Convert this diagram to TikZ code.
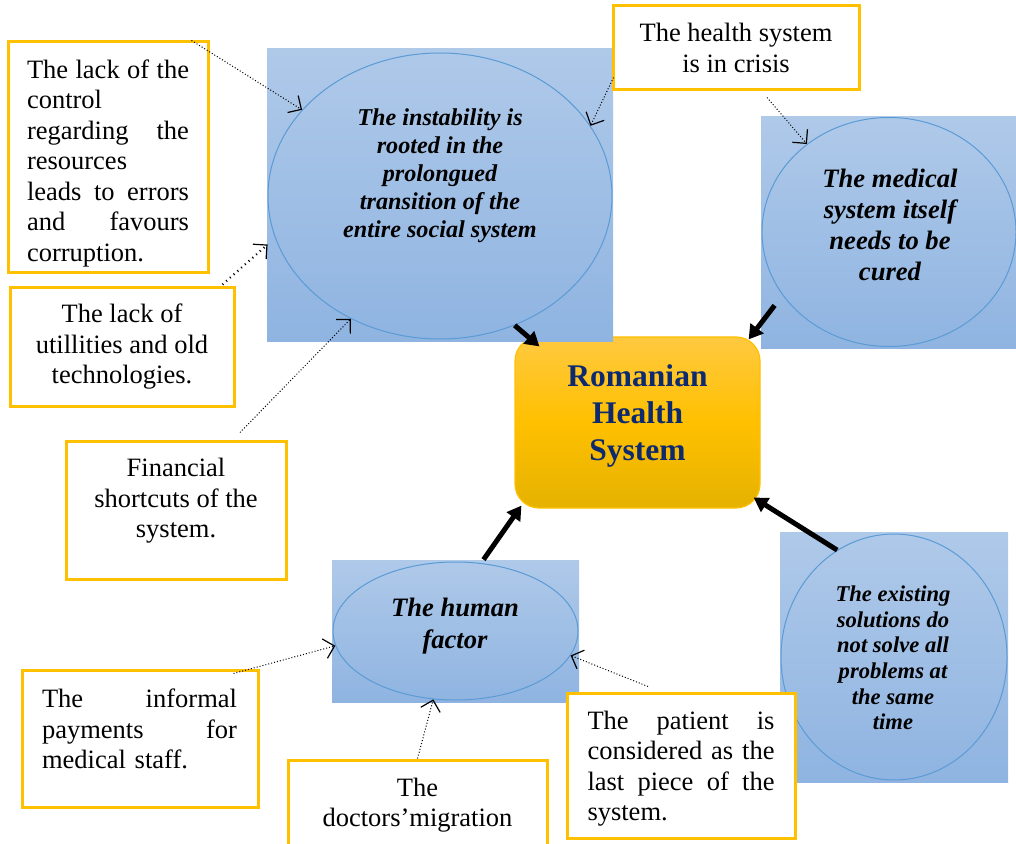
\documentclass[tikz,border=0pt]{standalone}
\usepackage{fontspec}
\setmainfont{Liberation Serif}
\usetikzlibrary{arrows.meta,calc,shapes.geometric}
\definecolor{paneltop}{HTML}{AFC9E9}
\definecolor{panelbot}{HTML}{8FB4E1}
\definecolor{ovalline}{HTML}{5B9BD5}
\definecolor{notegold}{HTML}{FFC000}
\definecolor{hubtop}{HTML}{FFC940}
\definecolor{hubmid}{HTML}{FFC000}
\definecolor{hubbot}{HTML}{E5B200}
\definecolor{hubtext}{HTML}{0E2A6E}
\newcommand{\notefont}{\fontsize{13.25pt}{15.25pt}\selectfont}
\begin{document}
\begin{tikzpicture}[x=0.5pt,y=-0.5pt] % 1 unit = 1 px of the picture, y goes down
\tikzstyle{panel} = [rectangle, top color=paneltop, bottom color=panelbot, inner sep=0pt] % blue square behind an oval
\tikzstyle{oval} = [ellipse, draw=ovalline, line width=0.5pt, inner sep=0pt] % thin blue oval
\tikzstyle{ovaltext} = [align=center, inner sep=0pt] % bold italic text of an oval
\tikzstyle{hub} = [rectangle, rounded corners=12pt, draw=notegold, line width=0.6pt, top color=hubtop, bottom color=hubbot, middle color=hubmid] % central box
\tikzstyle{hubtext} = [text=hubtext, align=center, inner sep=0pt, font=\fontsize{15.75pt}{18.5pt}\selectfont\bfseries]
\tikzstyle{note} = [rectangle, draw=notegold, line width=1.5pt, fill=white, inner sep=0pt, font=\notefont] % yellow framed note
\tikzstyle{notetext} = [align=center, inner sep=0pt, font=\notefont]
\tikzstyle{push} = [line width=2.5pt, -{Triangle[length=7pt,width=8pt]}] % thick arrow to the centre
\tikzstyle{hint} = [densely dotted, line width=0.5pt, -{Straight Barb[length=5pt,width=10pt,line width=0.6pt]}] % dotted arrow from a note
\useasboundingbox (0,0) rectangle (1016,844);
\clip (0,0) rectangle (1016,844);
% centre
\node[hub, minimum width=122.5pt, minimum height=85.5pt] (hub) at (637.5,422.5) {};
\node[hubtext] (hubtxt) at (637.5,416) {Romanian\\Health\\System};
% blue squares with ovals
\node[panel, minimum width=173pt, minimum height=146.5pt] (instabpanel) at (440,195.5) {};
\node[oval, minimum width=172pt, minimum height=143pt] (instab) at (440,196) {};
\node[ovaltext, font=\fontsize{12.1pt}{14pt}\selectfont\bfseries\itshape] (instabtxt) at (440,176) {The instability is\\rooted in the\\prolongued\\transition of the\\entire social system};
\node[panel, minimum width=127.5pt, minimum height=116pt] (medpanel) at (888.5,233) {};
\node[oval, minimum width=127pt, minimum height=114.5pt] (med) at (889,232) {};
\node[ovaltext, font=\fontsize{13.3pt}{15.5pt}\selectfont\bfseries\itshape] (medtxt) at (890,224.5) {The medical\\system itself\\needs to be\\cured};
\node[panel, minimum width=123.5pt, minimum height=71pt] (humanpanel) at (455.5,631) {};
\node[oval, minimum width=122.5pt, minimum height=69pt] (human) at (455.5,631) {};
\node[ovaltext, font=\fontsize{13.3pt}{16pt}\selectfont\bfseries\itshape] (humantxt) at (455,626) {The human\\factor};
\node[panel, minimum width=114pt, minimum height=125pt] (existpanel) at (894,657) {};
\node[oval, minimum width=113pt, minimum height=123pt] (exist) at (894,657) {};
\node[ovaltext, font=\fontsize{11.3pt}{12.8pt}\selectfont\bfseries\itshape] (existtxt) at (893,658) {The existing\\solutions do\\not solve all\\problems at\\the same\\time};
% notes
\node[note, minimum width=100pt, minimum height=115.5pt] (lackctrl) at (108,157.5) {};
\node[notetext, text width=81pt, align=left] (lackctrltxt) at (108,163) {The\hfill lack\hfill of\hfill the\\control\\regarding\hfill the\\resources\\leads\hfill to\hfill errors\\and\hfill favours\\corruption.};
\node[note, minimum width=112pt, minimum height=59pt, align=center] (lackutil) at (122,347) {The lack of\\utillities and old\\technologies.};
\node[note, minimum width=110pt, minimum height=69pt] (finbox) at (176,510) {};
\node[notetext] (fintxt) at (176,501) {Financial\\shortcuts of the\\system.};
\node[note, minimum width=123pt, minimum height=42pt, align=center] (crisis) at (736,48) {The health system\\is in crisis};
\node[note, minimum width=118pt, minimum height=68.5pt] (infbox) at (140,738.5) {};
\node[notetext, text width=97.5pt, align=left] (inftxt) at (139.5,729) {The\hfill informal\\payments\hfill for\\medical staff.};
\node[note, minimum width=129.5pt, minimum height=60pt] (migbox) at (417.5,820) {};
\node[notetext] (migtxt) at (417.5,805) {The\\doctors’migration};
\node[note, minimum width=114pt, minimum height=72.5pt] (patient) at (681,765.5) {};
\node[notetext, text width=93.5pt, align=left] (patienttxt) at (681,768.5) {The\hfill patient\hfill is\\considered\hfill as\hfill the\\last\hfill piece\hfill of\hfill the\\system.};
% thick arrows
\draw[push] (instab.300) -- ($(hub.north west)+(25,10)$);
\draw[push] ($(medpanel.south west)+(14,-44)$) -- ($(hub.north east)+(-12,3)$);
\draw[push] ($(humanpanel.north)+(28,0)$) -- ($(hub.south west)+(7,-3)$);
\draw[push] (exist.118) -- ($(hub.south east)+(-7,-11)$);
% dotted arrows
\draw[hint] ($(lackctrl.north east)+(-18,0)$) -- (instab.148);
\draw[hint, dotted, line width=1.1pt] ($(lackutil.north east)+(-13,-2)$) -- ($(instabpanel.west)+(1,49)$);
\draw[hint] ($(finbox.north)+(64,-7)$) -- (instab.234);
\draw[hint] ($(crisis.south west)+(2,-14)$) -- (instab.25);
\draw[hint] ($(crisis.south)+(31,6)$) -- (med.133);
\draw[hint] ($(infbox.north east)+(-26,5)$) -- (human.187);
\draw[hint] (migbox.north) -- (human.252);
\draw[hint] ($(patient.north)+(-33,-5)$) -- (human.348);
\end{tikzpicture}
\end{document}
